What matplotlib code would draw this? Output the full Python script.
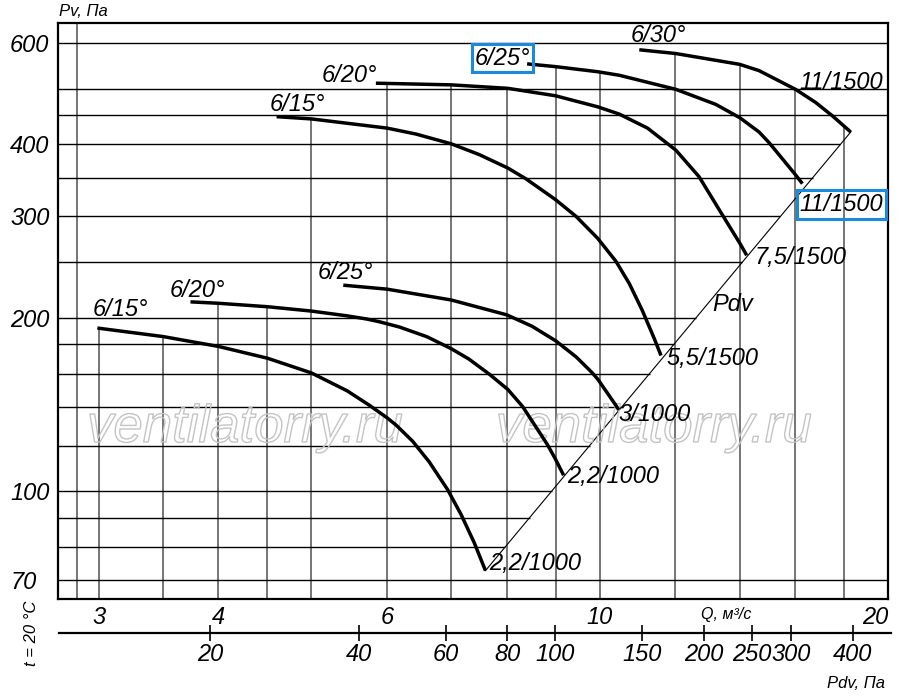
import numpy as np
import matplotlib
matplotlib.use("Agg")
import matplotlib.pyplot as plt
import matplotlib.patheffects as pe

plt.rcParams['font.family'] = ['Liberation Sans', 'DejaVu Sans']
plt.rcParams['font.style'] = 'italic'

# fan curves, Q in m3/s, Pv in Pa
a_q = [2.99, 3.5, 4.0, 4.5, 5.0, 5.45, 5.75, 6.0, 6.13, 6.38, 6.64, 6.94, 7.17, 7.40, 7.6]
a_p = [192, 185.6, 178.4, 170.2, 160.5, 149.4, 141, 134.1, 130.3, 122.1, 112.4, 100.6, 91, 81.3, 72.8]
b_q = [3.74, 4.0, 4.5, 5.0, 5.45, 5.71, 5.89, 6.18, 6.6, 7.0, 7.3, 7.67, 8.02, 8.31, 8.82, 8.99, 9.17]
b_p = [213.2, 212, 209.1, 205.5, 201.6, 199.1, 196.9, 192.8, 185.5, 176.8, 169.7,
       159.7, 150.2, 140.3, 120.5, 113.8, 106.6]
c_q = [5.4, 6.0, 7.0, 8.0, 8.5, 9.0, 9.45, 9.8, 9.95, 10.4, 10.47]
c_p = [227.9, 224.3, 214.8, 202.4, 193.4, 182.4, 171.1, 161.2, 156.7, 140.9, 138.4]
d_q = [4.6, 5.0, 6.0, 6.43, 7.0, 7.49, 8.02, 8.38, 8.99, 9.45, 9.95, 10.4, 10.74, 11.08, 11.4, 11.59]
d_p = [447, 443, 427, 417, 401, 384, 364, 348.5, 321, 300, 275, 250.7, 229.3, 206, 184.3, 172]
e_q = [5.84, 7.0, 8.02, 8.99, 9.95, 10.48, 11.22, 12.01, 12.7, 13.38, 14.01, 14.24]
e_p = [511, 507.6, 500.6, 486, 465, 451.7, 427, 391, 351.6, 305, 269.3, 256.8]
f_q = [8.4, 8.99, 9.95, 10.48, 12.01, 13.22, 14.01, 14.67, 15.03, 16.02, 16.28]
f_p = [552, 546, 535, 527.5, 498.6, 469.5, 445, 420.4, 402.8, 354, 342]
g_q = [11.0, 12.0, 14.0, 14.67, 16.02, 16.81, 17.51, 18.28]
g_p = [584, 575.4, 551, 537.3, 498.4, 473, 448, 420.6]
curves = [(a_q, a_p), (b_q, b_p), (c_q, c_p), (d_q, d_p),
          (e_q, e_p), (f_q, f_p), (g_q, g_p)]

# Pdv line through the curve ends
pdv_line_q = [7.6, 18.3]
pdv_line_p = [72.8, 421]

q_grid = [2.85, 3, 3.5, 4, 4.5, 5, 6, 7, 8, 9, 10, 12, 14, 16, 18]
p_grid = [70, 80, 90, 100, 120, 140, 160, 180, 200, 250, 300, 350, 400, 450, 500, 600]
q_ticks = [3, 4, 6, 10, 20]
p_ticks = [70, 100, 200, 300, 400, 600]
pdv_ticks = [20, 40, 60, 80, 100, 150, 200, 250, 300, 400]

q_min, q_max = 2.72, 20
p_min, p_max = 65, 650

fig = plt.figure(figsize=(9, 6.96), dpi=100)
ax = fig.add_axes([58/900, 97/696, 830/900, 576/696])
ax.set_xscale('log')
ax.set_yscale('log')
ax.set_xlim(q_min, q_max)
ax.set_ylim(p_min, p_max)


def top_of(q):
    # highest curve over this Q, or the frame top
    tops = []
    for cq, cp in curves:
        if cq[0] <= q <= cq[-1]:
            tops.append(10 ** np.interp(np.log10(q), np.log10(cq), np.log10(cp)))
    return max(tops) if tops else p_max


for q in q_grid:
    ax.vlines(q, p_min, top_of(q), color='#6a6a6a', lw=1.3, zorder=1)

for p in p_grid:
    if pdv_line_p[0] <= p <= pdv_line_p[1]:
        xe = 10 ** np.interp(np.log10(p), np.log10(pdv_line_p), np.log10(pdv_line_q))
    else:
        xe = q_max
    ax.hlines(p, q_min, xe, color='black', lw=1.0, zorder=1)

ax.plot(pdv_line_q, pdv_line_p, color='black', lw=0.8, zorder=2)
for cq, cp in curves:
    ax.plot(cq, cp, color='black', lw=2.5, solid_capstyle='butt',
            solid_joinstyle='round', zorder=3)

for s in ax.spines.values():
    s.set_linewidth(1.6)

ax.set_xticks(q_ticks)
ax.set_xticklabels([str(v) for v in q_ticks])
ax.xaxis.set_minor_locator(plt.NullLocator())
ax.set_yticks(p_ticks)
ax.set_yticklabels([str(v) for v in p_ticks])
ax.yaxis.set_minor_locator(plt.NullLocator())
ax.tick_params(axis='x', length=0, pad=5, labelsize=17)
ax.tick_params(axis='y', length=0, pad=34.5, labelsize=17)
for lab in ax.get_yticklabels():
    lab.set_horizontalalignment('left')
ax.get_xticklabels()[-1].set_horizontalalignment('right')

kw = dict(fontsize=17, ha='center', va='center', zorder=4)
ax.text(3.16, 207, '6/15°', **kw)
ax.text(3.80, 223, '6/20°', **kw)
ax.text(5.43, 240, '6/25°', **kw)
ax.text(4.84, 470, '6/15°', **kw)
ax.text(5.48, 528, '6/20°', **kw)
ax.text(11.51, 619, '6/30°', **kw)
ax.text(17.87, 512, '11/1500', **kw)
ax.text(16.19, 255, '7,5/1500', **kw)
ax.text(13.78, 211, 'Pdv', **kw)
ax.text(13.12, 170, '5,5/1500', **kw)
ax.text(11.42, 136, '3/1000', **kw)
ax.text(10.33, 106, '2,2/1000', **kw)
ax.text(8.57, 75, '2,2/1000', **kw)
box = dict(boxstyle='square,pad=0.12', fc='none', ec='#1a8bdc', lw=2.2)
ax.text(7.91, 565, '6/25°', bbox=box, **kw)
ax.text(17.87, 315, '11/1500', bbox=box, **kw)

for xw in (0.2253, 0.718):
    t = ax.text(xw, 0.297, 'ventilatorry.ru', transform=ax.transAxes,
                fontsize=38, ha='center', va='center', color='none', zorder=2)
    t.set_path_effects([pe.Stroke(linewidth=1.0, foreground='#c4c4c4')])

ax.text(726/830 - 58/830, -16/576, 'Q, м³/с', transform=ax.transAxes,
        fontsize=11.5, ha='center', va='center')

# Pdv scale under the chart
ax2 = fig.add_axes([59/900, 63/696, 832/900, 0.0001])
ax2.set_xscale('log')
ax2.set_xlim(9.90, 478)
ax2.set_yticks([])
for side in ('top', 'left', 'right'):
    ax2.spines[side].set_visible(False)
ax2.spines['bottom'].set_linewidth(1.6)
ax2.set_xticks(pdv_ticks)
ax2.set_xticklabels([str(v) for v in pdv_ticks])
ax2.xaxis.set_minor_locator(plt.NullLocator())
ax2.tick_params(axis='x', direction='inout', length=12, width=1.2, pad=1, labelsize=17)

fig.text(59/900, 1 - 12/696, 'Pv, Па', fontsize=12, ha='left', va='center')
fig.text(885/900, 1 - 683/696, 'Pdv, Па', fontsize=12, ha='right', va='center')
fig.text(31/900, 1 - 633/696, 't = 20 °C', fontsize=12, ha='center', va='center',
         rotation=90)

fig.savefig('out.png', dpi=100)
